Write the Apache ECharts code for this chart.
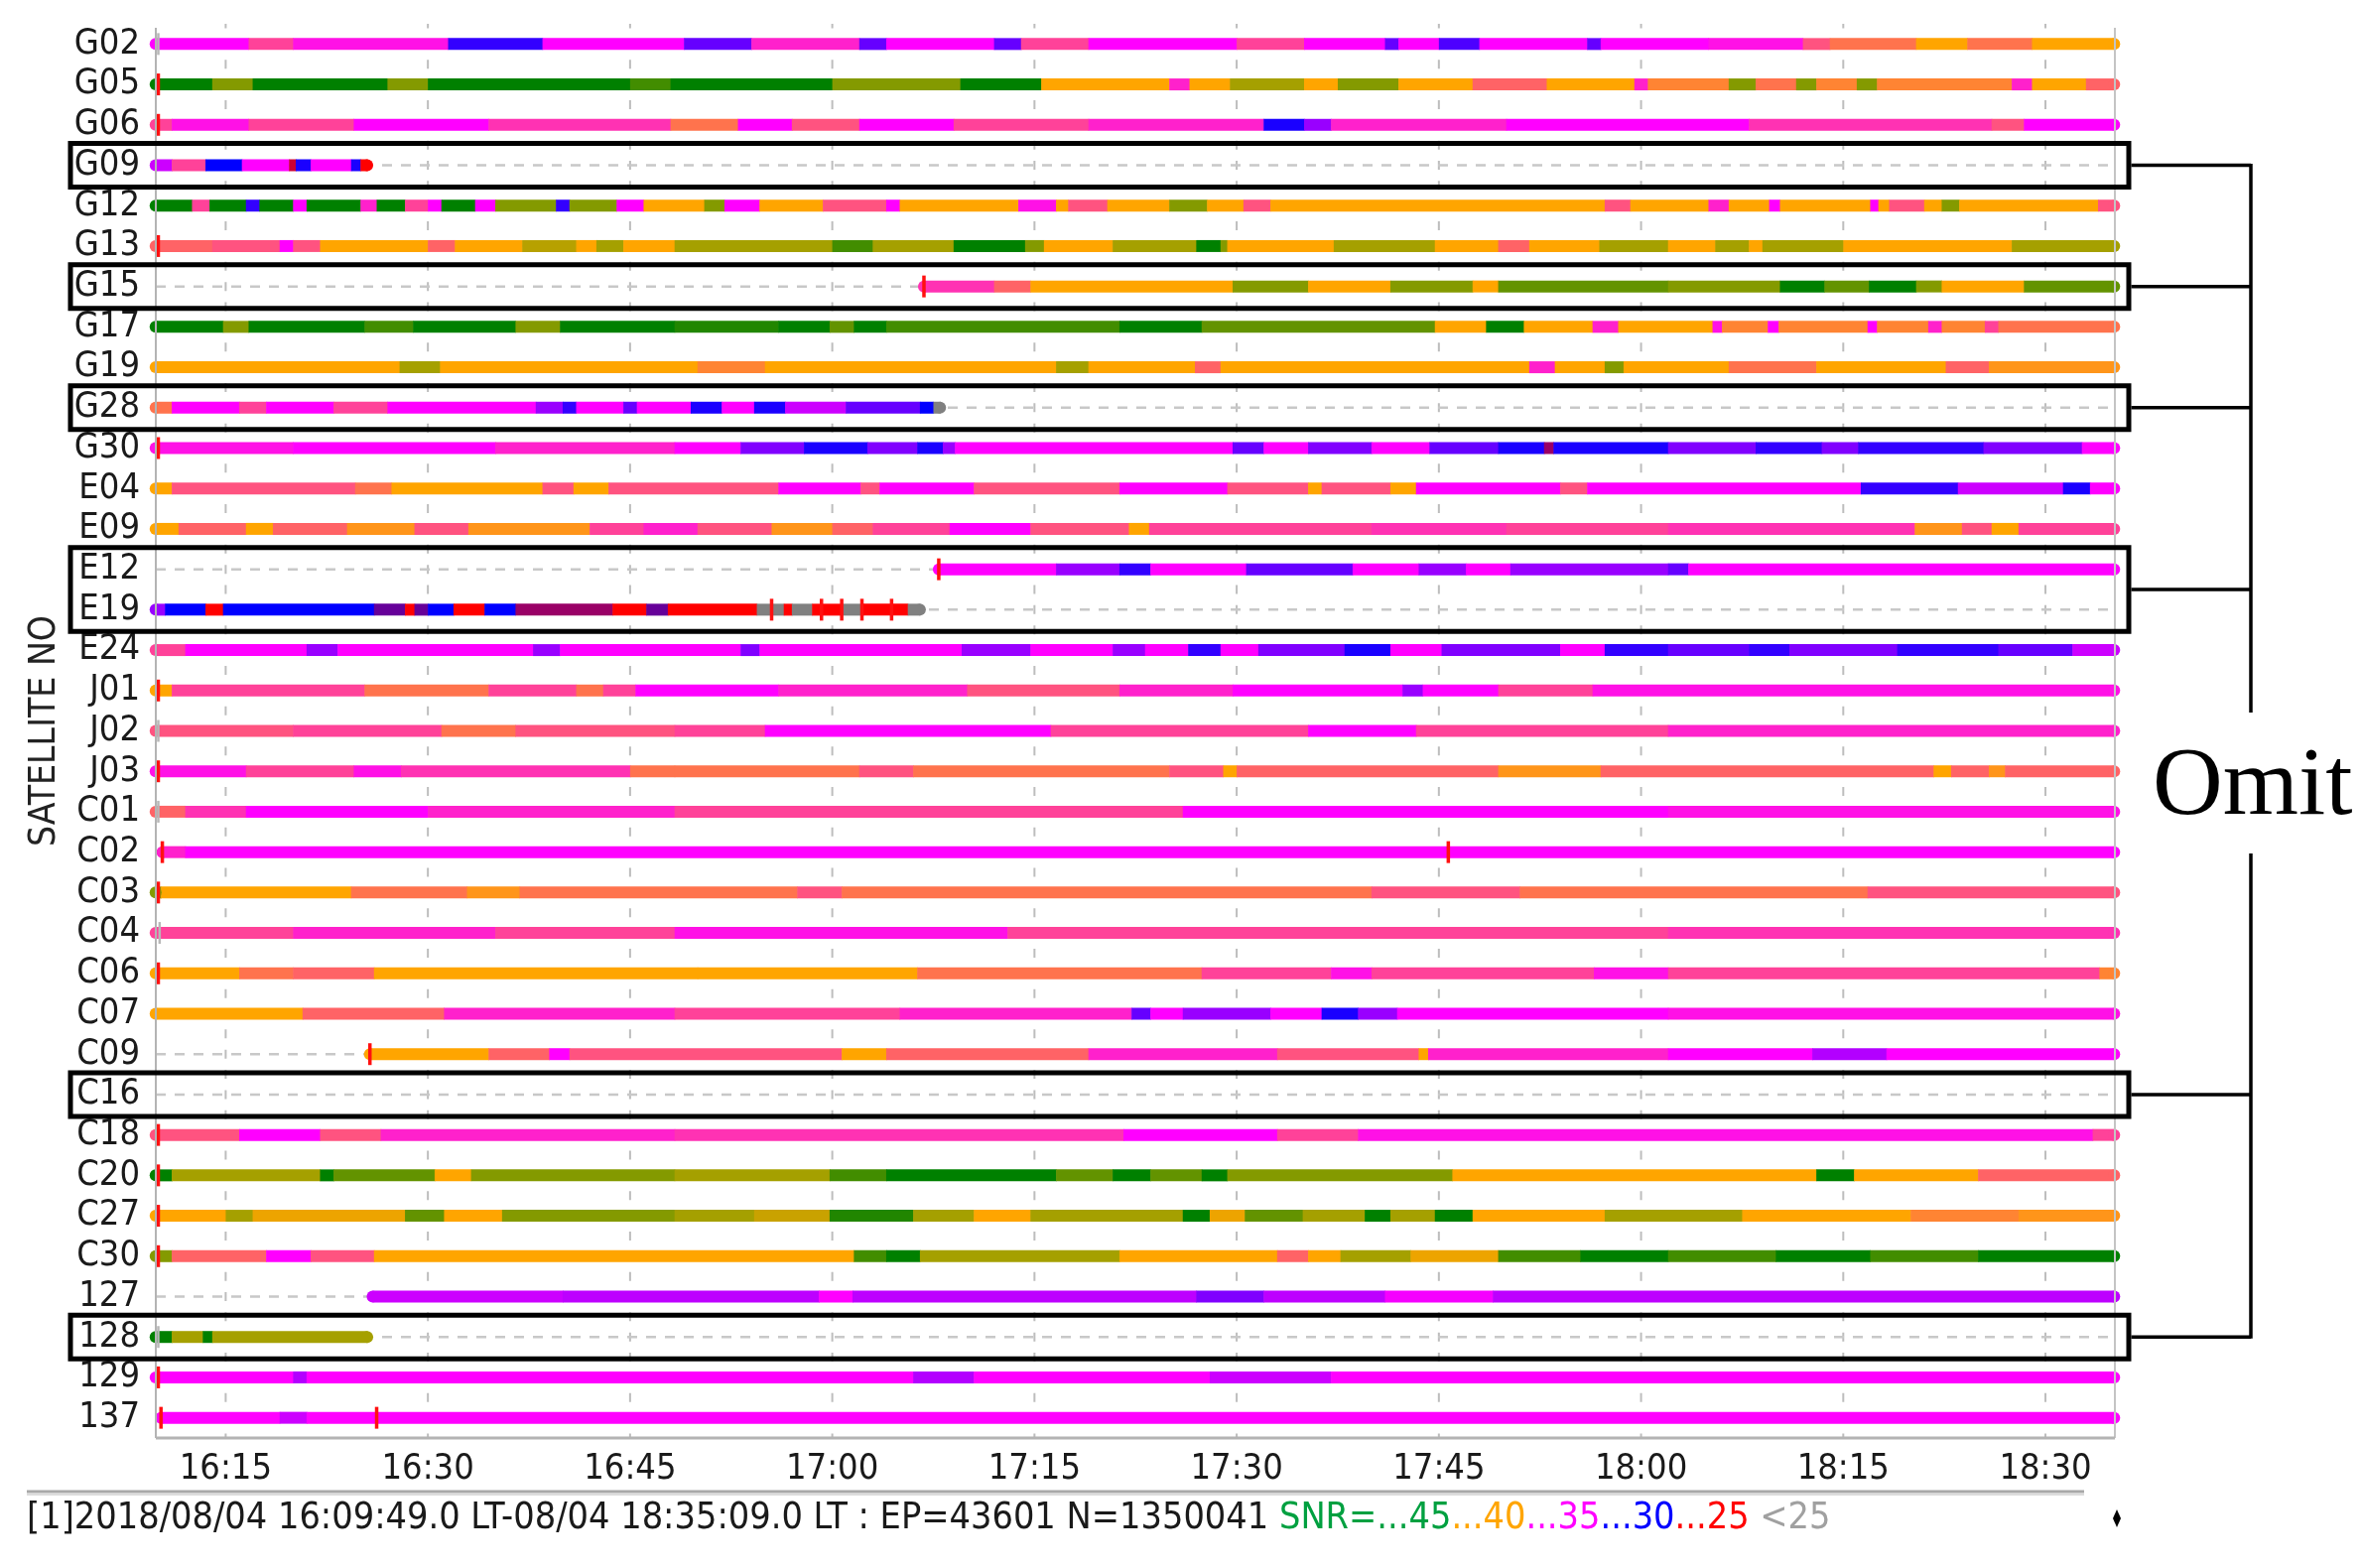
<!DOCTYPE html>
<html><head><meta charset="utf-8">
<script src="https://cdn.jsdelivr.net/npm/echarts@6/dist/echarts.min.js"></script>
<style>html,body{margin:0;padding:0;background:#fff}#c{width:2380px;height:1580px}</style>
</head><body><div id="c"></div><script>
// ---------- DATA ----------
const satellites = ['G02','G05','G06','G09','G12','G13','G15','G17','G19','G28','G30','E04','E09','E12','E19','E24','J01','J02','J03','C01','C02','C03','C04','C06','C07','C09','C16','C18','C20','C27','C30','127','128','129','137'];
// time in minutes after 16:00
const timeStart = 9 + 49/60;   // 16:09:49
const timeEnd = 155 + 9/60;    // 18:35:09
const tickMinutes = [15,30,45,60,75,90,105,120,135,150];
const omitGroups = [['G09'],['G15'],['G28'],['E12','E19'],['C16'],['128']];
const footerInfo = '[1]2018/08/04 16:09:49.0 LT-08/04 18:35:09.0 LT : EP=43601 N=1350041 ';
const snrLegend = ['SNR=...45','...40','...35','...30','...25',' <25'];

// SNR segments: [start min, end min, SNR dBHz]
const segG02 = [[9.8,16.7,35],[16.7,20,37],[20,31.5,35.5],[31.5,38.5,31],[38.5,49,35],[49,54,32],[54,62,36],[62,64,32],[64,72,35],[72,74,32],[74,79,37],[79,90,35],[90,95,37],[95,101,35],[101,102,32],[102,105,35],[105,108,31.5],[108,116,35],[116,117,32],[117,125,35],[125,132,35.5],[132,134,37.5],[134,140.4,38.5],[140.4,144.2,40],[144.2,149,38.5],[149,155.1,40]];
const segG05 = [[9.8,14,46],[14,17,43],[17,27,46],[27,30,43],[30,45,46],[45,48,44],[48,60,46],[60,69.5,43],[69.5,75.5,45.5],[75.5,85,40],[85,86.5,36],[86.5,89.5,40],[89.5,95,42.5],[95,97.5,40],[97.5,102,43],[102,107.5,40],[107.5,113,38],[113,119.5,40],[119.5,120.5,36],[120.5,126.5,39],[126.5,128.5,43],[128.5,131.5,38.5],[131.5,133,43],[133,136,39],[136,137.5,43],[137.5,147.5,39],[147.5,149,36],[149,153,40],[153,155.1,38]];
const segG06 = [[9.8,11,37],[11,16.7,35.5],[16.7,24.5,37],[24.5,34.5,35],[34.5,48,36.5],[48,53,38.5],[53,57,35],[57,62,37.5],[62,69,35],[69,79,37],[79,92,36],[92,95,30.5],[95,97,33],[97,110,36],[110,128,35],[128,146,36.5],[146,148.4,37.5],[148.4,155.1,35]];
const segG09 = [[9.8,11,34],[11,13.5,37],[13.5,16.2,30],[16.2,19.7,35],[19.7,20.2,26],[20.2,21.3,30.5],[21.3,24.3,35],[24.3,25,30.5],[25,25.5,25]];
const segG12 = [[9.8,12.5,46],[12.5,13.8,37],[13.8,16.5,46],[16.5,17.5,31],[17.5,20,46],[20,21,35],[21,25,46],[25,26.2,36],[26.2,28.3,46],[28.3,30,37],[30,31,35],[31,33.5,46],[33.5,35,35],[35,39.5,43],[39.5,40.5,31],[40.5,44,43],[44,46,35],[46,50.5,40],[50.5,52,43],[52,54.6,35],[54.6,59.3,40],[59.3,64,37.5],[64,65,35],[65,73.8,40],[73.8,76.6,35.5],[76.6,77.5,40],[77.5,80.4,37.5],[80.4,85,40],[85,87.8,43],[87.8,90.5,40],[90.5,92.5,37.5],[92.5,117.3,40],[117.3,119.2,37.5],[119.2,125,40],[125,126.5,36],[126.5,129.5,40],[129.5,130.3,35],[130.3,137,40],[137,137.6,35],[137.6,138.4,40],[138.4,141,37.5],[141,142.3,40],[142.3,143.6,43],[143.6,153.9,40],[153.9,155.1,37.5]];
const segG13 = [[9.8,14,38],[14,19,37.5],[19,20,35],[20,22,37.5],[22,30,40],[30,32,38],[32,37,40],[37,41,42],[41,42.5,40],[42.5,44.5,42.5],[44.5,48.3,40],[48.3,60,42.5],[60,63,44],[63,69,42.5],[69,74.3,45.5],[74.3,75.7,43],[75.7,80.8,40],[80.8,87,42.5],[87,88.8,45.5],[88.8,89.3,43],[89.3,97.2,40],[97.2,104.7,42.5],[104.7,109.4,40],[109.4,111.7,38],[111.7,116.9,40],[116.9,122,42.5],[122,125.5,40],[125.5,128,42.5],[128,129,40],[129,135,42.5],[135,147.5,40],[147.5,155.1,42.5]];
const segG15 = [[66.8,72,36.5],[72,74.7,38],[74.7,89.7,40],[89.7,95.3,43],[95.3,101.4,40],[101.4,107.5,43],[107.5,109.4,40],[109.4,122,43.5],[122,130.3,43],[130.3,133.6,47],[133.6,136.9,43.5],[136.9,140.4,46],[140.4,142.3,43],[142.3,148.4,40],[148.4,155.1,43.5]];
const segG17 = [[9.8,14.8,46.5],[14.8,16.7,43],[16.7,25.3,46.5],[25.3,28.9,44],[28.9,36.5,46.5],[36.5,39.8,43],[39.8,48.3,46],[48.3,56,44.5],[56,59.8,46.5],[59.8,61.6,43.5],[61.6,64,46],[64,81.3,44],[81.3,87.4,46],[87.4,104.7,43.5],[104.7,108.5,40],[108.5,111.3,45.5],[111.3,116.4,40],[116.4,118.3,36],[118.3,125.3,40],[125.3,126,35.5],[126,129.4,39],[129.4,130.2,35],[130.2,136.8,39],[136.8,137.5,35],[137.5,141.3,39],[141.3,142.3,36],[142.3,145.5,39],[145.5,146.5,37],[146.5,155.1,38.5]];
const segG19 = [[9.8,27.9,40],[27.9,30.9,42.5],[30.9,50,40],[50,55,39],[55,76.6,40],[76.6,79,42.5],[79,86.9,40],[86.9,88.8,38],[88.8,111.7,40],[111.7,113.6,36],[113.6,117.3,40],[117.3,118.7,43],[118.7,126.5,40],[126.5,133,38.5],[133,142.6,40],[142.6,145.8,38],[145.8,155.1,39.5]];
const segG28 = [[9.8,11,38.5],[11,16,35],[16,18,37],[18,23,35],[23,27,37],[27,38,35],[38,40,33],[40,41,31],[41,44.5,35],[44.5,45.5,32],[45.5,49.5,35],[49.5,51.8,30.5],[51.8,54.2,35],[54.2,56.5,30.5],[56.5,61,34],[61,66.5,32],[66.5,67.5,30],[67.5,68,24]];
const segG30 = [[9.8,20,35.5],[20,35,35],[35,48.3,36],[48.3,53.2,35],[53.2,57.9,32.5],[57.9,62.6,30.5],[62.6,66.3,32.5],[66.3,68.2,30.5],[68.2,69.1,33],[69.1,89.7,35],[89.7,92,32],[92,95.3,35],[95.3,100,32.5],[100,104.3,35],[104.3,109.4,32],[109.4,112.8,30.5],[112.8,113.5,27],[113.5,122,30.5],[122,128.5,32.5],[128.5,133.4,31],[133.4,136.1,32.5],[136.1,145.4,31],[145.4,152.7,32.5],[152.7,155.1,35]];
const segE04 = [[9.8,11,40],[11,24.6,37.5],[24.6,27.3,38.5],[27.3,38.5,40],[38.5,40.8,37.5],[40.8,43.4,40],[43.4,56,37.5],[56,62.1,35],[62.1,63.5,37.5],[63.5,70.5,35],[70.5,81.3,37.5],[81.3,89.3,35],[89.3,95.3,37.5],[95.3,96.3,40],[96.3,101.4,37.5],[101.4,103.3,40],[103.3,114,35],[114,116,37.5],[116,136.3,35],[136.3,143.5,31],[143.5,151.3,34],[151.3,153.3,30.5],[153.3,155.1,35]];
const segE09 = [[9.8,11.5,40],[11.5,16.5,38],[16.5,18.5,40],[18.5,24,38],[24,29,39.5],[29,33,37.5],[33,42,39.5],[42,46,37],[46,50,36],[50,55.5,37.5],[55.5,60,39.5],[60,63,38],[63,68.7,37],[68.7,74.7,35],[74.7,82,37.5],[82,83.5,40],[83.5,100,37],[100,110,36.5],[110,122,37],[122,140.3,36.5],[140.3,143.8,39.5],[143.8,146,37.5],[146,148,40],[148,155.1,37]];
const segE12 = [[67.9,76.6,35],[76.6,81.3,33],[81.3,83.6,31],[83.6,90.7,35],[90.7,98.6,32],[98.6,103.5,35],[103.5,107,33],[107,110.3,35],[110.3,122,33],[122,123.5,32],[123.5,155.1,35]];
const segE19 = [[9.8,10.5,33],[10.5,13.5,30],[13.5,14.8,25],[14.8,26,30],[26,28.3,28],[28.3,29,25],[29,30,28],[30,31.9,30],[31.9,34.2,25],[34.2,36.5,30],[36.5,43.7,27],[43.7,46.2,25],[46.2,47.8,28],[47.8,54.4,25],[54.4,56.4,23],[56.4,57,25],[57,58.5,23],[58.5,60.7,25],[60.7,62.3,23],[62.3,65.6,25],[65.6,66.5,23]];
const segE24 = [[9.8,12,37],[12,21,35],[21,23.3,33],[23.3,37.8,35],[37.8,39.8,33],[39.8,53.2,35],[53.2,54.6,32.5],[54.6,69.6,35],[69.6,74.7,33],[74.7,80.8,35],[80.8,83.2,33],[83.2,86.4,35],[86.4,88.8,31],[88.8,91.6,35],[91.6,98,32.5],[98,101.4,30.5],[101.4,105.2,35],[105.2,114,32.5],[114,117.3,35],[117.3,122,31],[122,128,32],[128,131,31],[131,139,32.5],[139,146.5,31],[146.5,152,32],[152,155.1,34]];
const segJ01 = [[9.8,11,40],[11,25.3,37],[25.3,34.5,38.5],[34.5,41,37],[41,43,38.5],[43,45.4,37],[45.4,56,35],[56,70,36],[70,81.3,37.5],[81.3,89.7,36],[89.7,102.3,35],[102.3,103.8,33],[103.8,109.4,35],[109.4,116.4,37],[116.4,155.1,35.5]];
const segJ02 = [[9.8,20,37.5],[20,31,37],[31,36.5,38.5],[36.5,48.3,37.5],[48.3,55,37],[55,76.2,35],[76.2,95.3,37],[95.3,103.3,35],[103.3,122,37],[122,155.1,36]];
const segJ03 = [[9.8,16.5,35.5],[16.5,24.5,37],[24.5,28,35.5],[28,45,36.5],[45,48.3,38.5],[48.3,62,38.5],[62,66,37.5],[66,85,38.5],[85,89,37.5],[89,90,40],[90,109.4,38],[109.4,117,39.5],[117,141.7,38],[141.7,143,40],[143,145.8,38],[145.8,147,39.5],[147,155.1,38]];
const segC01 = [[9.8,12,38],[12,16.5,36.5],[16.5,30,35],[30,48.3,36],[48.3,86,37],[86,122,35],[122,155.1,35.5]];
const segC02 = [[10.3,12,36],[12,155.1,35]];
const segC03 = [[9.8,10.2,43],[10.2,24.3,40],[24.3,32.9,38.5],[32.9,36.8,39.5],[36.8,57.4,38.5],[57.4,60.7,37.5],[60.7,100,38.5],[100,111,37.5],[111,136.8,38.5],[136.8,155.1,37.5]];
const segC04 = [[9.8,20,37],[20,35,36],[35,48.3,37],[48.3,73,35.5],[73,122,37],[122,155.1,36.5]];
const segC06 = [[9.8,16,40],[16,20,38.5],[20,26,38],[26,50,40],[50,66.3,40],[66.3,87.4,38.5],[87.4,97,37],[97,100,35.5],[100,116.5,37],[116.5,122,35.5],[122,154,37],[154,155.1,39]];
const segC07 = [[9.8,20.7,40],[20.7,31.2,38],[31.2,48.3,36],[48.3,65,37],[65,82.2,36],[82.2,83.6,32],[83.6,86,35],[86,92.5,33],[92.5,96.3,35],[96.3,99,30.5],[99,101.9,33],[101.9,122,35],[122,155.1,35.5]];
const segC09 = [[25.7,34.5,40],[34.5,39,38],[39,40.5,35],[40.5,60.7,37.5],[60.7,64,40],[64,79,38],[79,93,36],[93,103.5,37.5],[103.5,104.2,40],[104.2,122,36],[122,132.7,35],[132.7,138.2,33.5],[138.2,155.1,35]];
const segC16 = [];
const segC18 = [[9.8,16,37.5],[16,22,35],[22,26.5,37.5],[26.5,48.3,36],[48.3,81.6,36.5],[81.6,93,35],[93,99,37],[99,153.5,35.5],[153.5,155.1,37]];
const segC20 = [[9.8,11,45],[11,22,42.5],[22,23,46],[23,30.5,43.5],[30.5,33.2,40],[33.2,48.3,43],[48.3,59.8,42.5],[59.8,64,44],[64,76.6,46.5],[76.6,80.8,43.5],[80.8,83.6,46],[83.6,87.4,43.5],[87.4,89.3,46],[89.3,106,43],[106,133,40],[133,135.8,45.5],[135.8,145,40],[145,155.1,38]];
const segC27 = [[9.8,15,40],[15,17,42.5],[17,28.3,40.5],[28.3,31.2,43.5],[31.2,35.5,40],[35.5,48.3,43],[48.3,54.2,42.5],[54.2,59.8,41.5],[59.8,66,44.5],[66,70.5,42.5],[70.5,74.7,40],[74.7,86,42.5],[86,88,46],[88,90.6,40.5],[90.6,94.9,43.5],[94.9,99.5,42.5],[99.5,101.4,45.5],[101.4,104.7,42.5],[104.7,107.5,46],[107.5,117.3,40],[117.3,127.5,42.5],[127.5,140,40],[140,148,39],[148,155.1,39.5]];
const segC30 = [[9.8,11,43],[11,18,38],[18,21.3,35],[21.3,26,37.5],[26,61.6,40],[61.6,64,44],[64,66.5,46],[66.5,81.3,42.5],[81.3,93,40],[93,95.3,38],[95.3,97.7,40],[97.7,102.9,42.5],[102.9,109.4,40.5],[109.4,115.5,44],[115.5,122,46],[122,130,44],[130,137,46],[137,145,44],[145,155.1,46]];
const seg127 = [[25.9,40,34],[40,59,33.7],[59,61.5,35],[61.5,87,33.7],[87,92,32.5],[92,101,33.7],[101,109,34.8],[109,155.1,33.7]];
const seg128 = [[9.8,11,46],[11,13.3,42.5],[13.3,14,45],[14,25.5,42.5]];
const seg129 = [[9.8,20,35],[20,21,33.5],[21,66,35],[66,70.5,33.5],[70.5,88,35],[88,97,34],[97,155.1,35]];
const seg137 = [[10.2,19,35],[19,21,34],[21,155.1,35]];

// cycle-slip / start marks: [satellite, minute, kind]
const slipMarks = [['G02',10.0,'gray'],['G05',10.0,'red'],['G06',10.0,'red'],['G13',10.0,'red'],['G15',66.8,'red'],['G30',10.0,'red'],
 ['E12',67.9,'red'],['E19',55.5,'red'],['E19',59.2,'red'],['E19',60.7,'red'],['E19',62.2,'red'],['E19',64.4,'red'],
 ['J01',10.0,'red'],['J02',10.0,'gray'],['J03',10.0,'red'],['C01',10.0,'gray'],['C02',10.3,'red'],['C02',105.7,'red'],['C03',10.0,'red'],
 ['C04',10.1,'gray'],['C06',10.0,'red'],['C09',25.7,'red'],['C18',10.0,'red'],['C20',10.0,'red'],['C27',10.0,'red'],['C30',10.0,'red'],
 ['128',10.0,'gray'],['129',10.0,'red'],['137',10.2,'red'],['137',26.2,'red']];

const satSegments = [segG02,segG05,segG06,segG09,segG12,segG13,segG15,segG17,segG19,segG28,segG30,segE04,segE09,segE12,segE19,segE24,segJ01,segJ02,segJ03,segC01,segC02,segC03,segC04,segC06,segC07,segC09,segC16,segC18,segC20,segC27,segC30,seg127,seg128,seg129,seg137];

// ---------- STYLE ----------
const FONT = '"DejaVu Sans Condensed","DejaVu Sans",sans-serif';
const snrAnchors = [[45,[0,128,0]],[42.5,[165,160,0]],[40,[255,165,0]],[35,[255,0,255]],[30,[0,0,255]],[25,[255,0,0]]];
function snrColor(s){
  if (s < 25) return 'rgb(128,128,128)';
  if (s >= 45) return 'rgb(0,128,0)';
  for (let i=0;i<snrAnchors.length-1;i++){
    const [hi,ch] = snrAnchors[i], [lo,cl] = snrAnchors[i+1];
    if (s <= hi && s >= lo){
      const t = (s-lo)/(hi-lo);
      return 'rgb(' + [0,1,2].map(k=>Math.round(cl[k]+(ch[k]-cl[k])*t)).join(',') + ')';
    }
  }
  return '#888';
}
const fmt = v => { const h = 16 + Math.floor(v/60), m = Math.round(v%60); return h + ':' + String(m).padStart(2,'0'); };

const segData = [];
const capData = [];
satSegments.forEach((segs,i)=>{
  segs.forEach(s=>segData.push([s[0],s[1],i,s[2]]));
  if (segs.length){
    const f = segs[0], l = segs[segs.length-1];
    capData.push([f[0], i, f[2]]); capData.push([l[1], i, l[2]]);
  }
});
const slipData = slipMarks.map(m=>[m[1], satellites.indexOf(m[0]), m[2]==='red'?1:0]);
const rowData = satellites.map((s,i)=>[timeStart,i]);
const vgridData = tickMinutes.map(t=>[t,0]);
const BAND = 12;

const chart = echarts.init(document.getElementById('c'), null, {renderer:'canvas'});
const option = {
  backgroundColor:'#fff',
  animation:false,
  grid:{left:157, right:249, top:24, bottom:131},
  xAxis:{type:'value', min:timeStart, max:timeEnd,
    axisLine:{show:false}, axisTick:{show:false}, splitLine:{show:false},
    axisLabel:{customValues:tickMinutes, formatter:fmt, fontSize:36, fontFamily:FONT, color:'#1a1a1a', margin:14}},
  yAxis:{type:'category', data:satellites, inverse:true,
    axisLine:{show:false}, axisTick:{show:false}, splitLine:{show:false},
    axisLabel:{interval:0, fontSize:36, fontFamily:FONT, color:'#1a1a1a', margin:16},
    name:'SATELLITE NO', nameLocation:'middle', nameGap:90,
    nameTextStyle:{fontSize:37, fontFamily:FONT, color:'#222'}},
  series:[
    {type:'custom', z:1, silent:true, data:vgridData, encode:{x:0,y:1},
     renderItem:(params,api)=>{
       const cs = params.coordSys; const x = api.coord([api.value(0),0])[0];
       const pitch = cs.height/satellites.length/2;
       return {type:'line', shape:{x1:x,y1:cs.y,x2:x,y2:cs.y+cs.height},
         style:{stroke:'#bdbdbd', lineWidth:2, lineDash:[9,pitch-9], lineDashOffset:4.5}};
     }},
    {type:'custom', z:1, silent:true, data:rowData, encode:{x:0,y:1},
     renderItem:(params,api)=>{
       const cs = params.coordSys; const y = api.coord([timeStart, api.value(1)])[1];
       return {type:'line', shape:{x1:cs.x,y1:y,x2:cs.x+cs.width,y2:y},
         style:{stroke:'#c8c8c8', lineWidth:2.5, lineDash:[10,9]}};
     }},
    {type:'custom', z:2, silent:true, data:segData, encode:{x:[0,1],y:2},
     renderItem:(params,api)=>{
       const a = api.coord([api.value(0), api.value(2)]);
       const b = api.coord([api.value(1), api.value(2)]);
       return {type:'rect', shape:{x:a[0], y:a[1]-BAND/2, width:b[0]-a[0]+0.6, height:BAND},
         style:{fill:snrColor(api.value(3))}};
     }},
    {type:'custom', z:2, silent:true, data:capData, encode:{x:0,y:1},
     renderItem:(params,api)=>{
       const p = api.coord([api.value(0), api.value(1)]);
       return {type:'circle', shape:{cx:p[0], cy:p[1], r:BAND/2}, style:{fill:snrColor(api.value(2))}};
     }},
    {type:'custom', z:3, silent:true, data:slipData, encode:{x:0,y:1},
     renderItem:(params,api)=>{
       const p = api.coord([api.value(0), api.value(1)]);
       const red = api.value(2)===1;
       return {type:'line', shape:{x1:p[0],y1:p[1]-11,x2:p[0],y2:p[1]+11},
         style:{stroke:red?'#ff1010':'#b8b8b8', lineWidth:red?3.5:2.5}};
     }}
  ]
};
chart.setOption(option);

// ---------- ANNOTATIONS ----------
const pTL = chart.convertToPixel({gridIndex:0},[timeStart, satellites[0]]);
const pBR = chart.convertToPixel({gridIndex:0},[timeEnd, satellites[satellites.length-1]]);
const plotL = pTL[0], plotR = pBR[0];
const pitch = (pBR[1]-pTL[1])/(satellites.length-1);
const plotT = pTL[1]-pitch/2, plotB = pBR[1]+pitch/2;
const rowY = s => pTL[1] + satellites.indexOf(s)*pitch;

const g = [];
const frame = '#c4c4c4';
g.push({type:'line', shape:{x1:plotL,y1:plotT+4,x2:plotL,y2:plotB}, style:{stroke:'#b4b4b4',lineWidth:2}, z:5});
g.push({type:'line', shape:{x1:plotR,y1:plotT+4,x2:plotR,y2:plotB}, style:{stroke:frame,lineWidth:2}, z:5});
g.push({type:'line', shape:{x1:plotL,y1:plotB,x2:plotR,y2:plotB}, style:{stroke:'#b4b4b4',lineWidth:3}, z:5});

const boxL = plotL - 86, boxR = plotR + 14, bracketX = plotR + 137;
omitGroups.forEach(grp=>{
  const y1 = rowY(grp[0]) - 22, y2 = rowY(grp[grp.length-1]) + 22;
  g.push({type:'rect', shape:{x:boxL, y:y1, width:boxR-boxL, height:y2-y1}, style:{fill:null, stroke:'#000', lineWidth:5}, z:10});
  const ym = (y1+y2)/2;
  g.push({type:'line', shape:{x1:boxR+2.5, y1:ym, x2:bracketX, y2:ym}, style:{stroke:'#000', lineWidth:3.5}, z:10});
});
const yTopB = rowY(omitGroups[0][0]), yBotB = rowY(omitGroups[omitGroups.length-1][0]);
g.push({type:'line', shape:{x1:bracketX, y1:yTopB-1.5, x2:bracketX, y2:718}, style:{stroke:'#000', lineWidth:3.5}, z:10});
g.push({type:'line', shape:{x1:bracketX, y1:860, x2:bracketX, y2:yBotB+1.5}, style:{stroke:'#000', lineWidth:3.5}, z:10});
g.push({type:'text', x:plotR+38, y:794, style:{text:'Omit', font:'98px "Liberation Serif","Times New Roman",serif', fill:'#000', textVerticalAlign:'middle', verticalAlign:'middle'}, z:10});

// footer
g.push({type:'line', shape:{x1:27, y1:1503, x2:2100, y2:1503}, style:{stroke:'#a8a8a8', lineWidth:3}, z:5});
g.push({type:'line', shape:{x1:27, y1:1506, x2:2100, y2:1506}, style:{stroke:'#dcdcdc', lineWidth:2}, z:5});
const richCols = {k:'#1a1a1a', g:'#00a040', o:'#ffa500', m:'#ff00ff', b:'#0000ff', r:'#ff0000', s:'#a0a0a0'};
const keys = ['g','o','m','b','r','s'];
let footerStr = '{k|' + footerInfo + '}' + snrLegend.map((t,i)=>'{'+keys[i]+'|'+t+'}').join('');
const rich = {};
Object.keys(richCols).forEach(k=>{ rich[k] = {fill:richCols[k], color:richCols[k], fontSize:37.5, fontFamily:FONT}; });
g.push({type:'text', x:27, y:1530, style:{text:footerStr, rich:rich, fontSize:37.5, fontFamily:FONT, fill:'#1a1a1a', verticalAlign:'middle'}, z:5});
g.push({type:'polygon', shape:{points:[[2133,1521],[2137,1530],[2133,1539],[2129,1530]]}, style:{fill:'#000'}, z:5});

chart.setOption({graphic:g});
</script></body></html>
